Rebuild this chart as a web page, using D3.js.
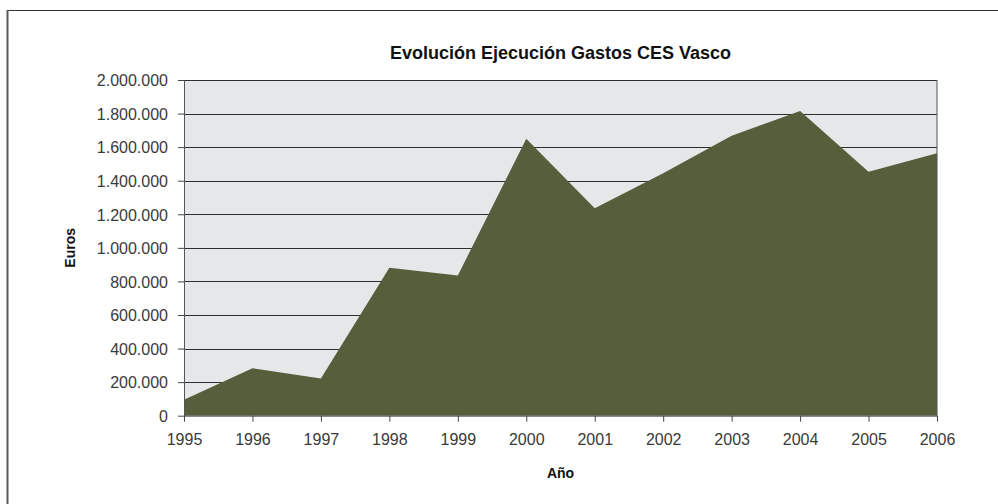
<!DOCTYPE html>
<html>
<head>
<meta charset="utf-8">
<script src="https://cdn.jsdelivr.net/npm/d3@7"></script>
<style>
	body { margin: 0; background: #fff; }
	text { font-family: "Liberation Sans", Arial, sans-serif; }
</style>
</head>
<body>
<div id="chart"></div>
<script>
// chart data
// ==========
var years = [1995, 1996, 1997, 1998, 1999, 2000, 2001, 2002, 2003, 2004, 2005, 2006];
var gastos = [95000, 283000, 222000, 882000, 835000, 1650000, 1236000, 1445000, 1668000, 1815000, 1454000, 1563000];
var yTicks = [0, 200000, 400000, 600000, 800000, 1000000, 1200000, 1400000, 1600000, 1800000, 2000000];

var svgWidth = 998;
var svgHeight = 504;

var margin = {
	top: 80,
	right: 61,
	bottom: 88.3,
	left: 184
};

var width = svgWidth - margin.left - margin.right;
var height = svgHeight - margin.top - margin.bottom;

// spanish number format: 2.000.000
var esLocale = d3.formatLocale({ decimal: ",", thousands: ".", grouping: [3], currency: ["", " €"] });
var fmt = esLocale.format(",d");

var svg = d3.select("#chart")
	.append("svg")
	.attr("width", svgWidth)
	.attr("height", svgHeight);

// outer frame (cut on right and bottom in the original)
svg.append("line")
	.attr("x1", 7).attr("x2", svgWidth)
	.attr("y1", 10.5).attr("y2", 10.5)
	.attr("stroke", "#333")
	.attr("stroke-width", 1);
svg.append("line")
	.attr("x1", 7.5).attr("x2", 7.5)
	.attr("y1", 10).attr("y2", svgHeight)
	.attr("stroke", "#5a5a5a")
	.attr("stroke-width", 2);

var chartGroup = svg.append("g")
	.attr("transform", `translate(${margin.left}, ${margin.top})`);

// scales
var xScale = d3.scaleLinear()
	.domain([d3.min(years), d3.max(years)])
	.range([0, width]);

var yScale = d3.scaleLinear()
	.domain([0, 2000000])
	.range([height, 0]);

// plot background
chartGroup.append("rect")
	.attr("width", width)
	.attr("height", height)
	.attr("fill", "#e6e7e9");

// gridlines
chartGroup.selectAll(".grid")
	.data(yTicks.slice(1))
	.enter()
	.append("line")
	.attr("class", "grid")
	.attr("x1", 0)
	.attr("x2", width)
	.attr("y1", d => Math.round(yScale(d)) + 0.5)
	.attr("y2", d => Math.round(yScale(d)) + 0.5)
	.attr("stroke", "#2e2e2e")
	.attr("stroke-width", 1);

// area
var series = years.map((y, i) => ({ year: y, value: gastos[i] }));

var area = d3.area()
	.x(d => xScale(d.year))
	.y0(height)
	.y1(d => yScale(d.value));

chartGroup.append("path")
	.datum(series)
	.attr("d", area)
	.attr("fill", "#565f3c");

// right border of plot
chartGroup.append("line")
	.attr("x1", width).attr("x2", width)
	.attr("y1", 0).attr("y2", height)
	.attr("stroke", "#555")
	.attr("stroke-width", 1);

// axes
var leftAxis = d3.axisLeft(yScale)
	.tickValues(yTicks)
	.tickFormat(fmt)
	.tickSizeInner(6)
	.tickSizeOuter(0)
	.tickPadding(10);

var bottomAxis = d3.axisBottom(xScale)
	.tickValues(years)
	.tickFormat(d3.format("d"))
	.tickSizeInner(6)
	.tickSizeOuter(0)
	.tickPadding(12);

var yAxis = chartGroup.append("g")
	.call(leftAxis);

var xAxis = chartGroup.append("g")
	.attr("transform", `translate(0, ${height})`)
	.call(bottomAxis);

[xAxis, yAxis].forEach(function (ax) {
	ax.select(".domain").attr("stroke", "#555");
	ax.selectAll(".tick line").attr("stroke", "#444");
	ax.selectAll(".tick text")
		.attr("fill", "#3a3a3a")
		.style("font-size", "16px")
		.style("font-family", "'Liberation Sans', Arial, sans-serif");
});
yAxis.selectAll(".tick text").attr("dy", "0.36em");

// titles
svg.append("text")
	.attr("x", margin.left + width / 2)
	.attr("y", 59)
	.attr("text-anchor", "middle")
	.style("font-size", "18px")
	.style("font-weight", "bold")
	.attr("fill", "#111")
	.text("Evolución Ejecución Gastos CES Vasco");

svg.append("text")
	.attr("transform", `translate(75, ${margin.top + height / 2}) rotate(-90)`)
	.attr("text-anchor", "middle")
	.style("font-size", "14px")
	.style("font-weight", "bold")
	.attr("fill", "#111")
	.text("Euros");

svg.append("text")
	.attr("x", margin.left + width / 2)
	.attr("y", 478)
	.attr("text-anchor", "middle")
	.style("font-size", "14px")
	.style("font-weight", "bold")
	.attr("fill", "#111")
	.text("Año");
</script>
</body>
</html>
